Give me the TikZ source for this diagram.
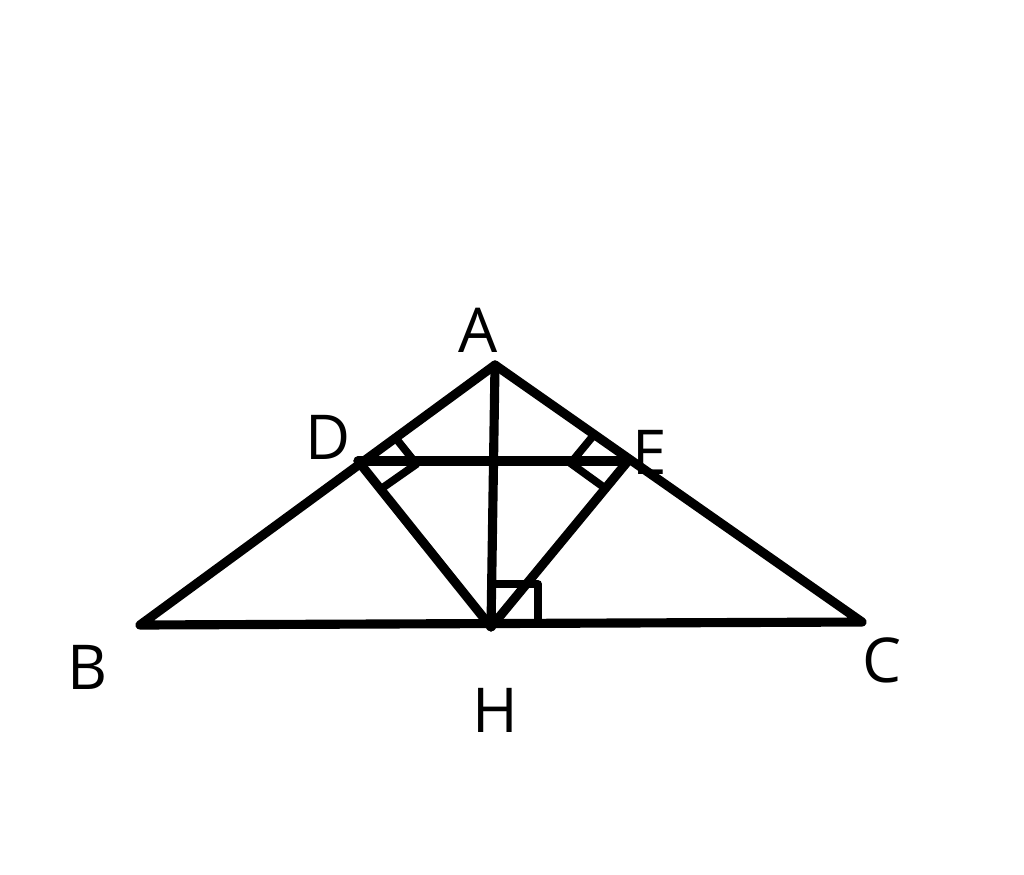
\documentclass[tikz,border=0pt]{standalone}
\usepackage{fontspec}
\setmainfont{Open Sans}
\usetikzlibrary{calc}
\begin{document}
\begin{tikzpicture}[x=0.025cm,y=-0.025cm,
  seg/.style={line width=6.5pt,line cap=round,line join=round},
  ramark/.style={line width=5.5pt,line join=round},
  lbl/.style={font=\fontsize{44}{48}\selectfont,inner sep=0pt}]
\useasboundingbox (0,0) rectangle (1024,874);
\coordinate (A) at (495,365);
\coordinate (B) at (140,625);
\coordinate (C) at (862,622);
\coordinate (H) at (491,627);
\coordinate (D) at (358,461);
\coordinate (E) at (628,461);
\draw[seg] (A) -- (B) -- (C) -- cycle;
\draw[seg] (A) -- (H);
\draw[seg] (D) -- (E);
\draw[seg] (D) -- (H) -- (E);
% right angle marks
\coordinate (D1) at ($(D)!0.262!(A)$);
\coordinate (D2) at ($(D)!0.17!(H)$);
\coordinate (E1) at ($(E)!0.262!(A)$);
\coordinate (E2) at ($(E)!0.165!(H)$);
\draw[ramark] (D1) -- ($(D1)+(D2)-(D)$) -- (D2);
\draw[ramark] (E1) -- ($(E1)+(E2)-(E)$) -- (E2);
\draw[ramark] ($(H)+(0,-43)$) -- ++(47,0) -- ++(0,43);
\node[lbl] (lA) at (478,330) {A};
\node[lbl] (lD) at (328,437) {D};
\node[lbl] (lE) at (650,452) {E};
\node[lbl] (lB) at (88,667) {B};
\node[lbl] (lC) at (882,660) {C};
\node[lbl] (lH) at (495,710) {H};
\end{tikzpicture}
\end{document}
